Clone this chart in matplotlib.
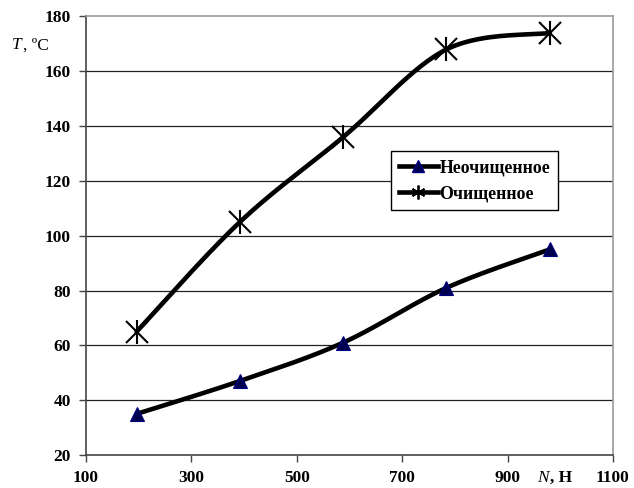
import numpy as np
import matplotlib
matplotlib.use("Agg")
import matplotlib.pyplot as plt
from matplotlib.lines import Line2D

# load, N and temperature readings
load_n = [196, 392, 588, 784, 980]
temp_raw = [35, 47, 61, 81, 95]        # Неочищенное
temp_clean = [65, 105, 136, 168, 174]  # Очищенное

x_ticks = [100, 300, 500, 700, 900, 1100]
y_ticks = [20, 40, 60, 80, 100, 120, 140, 160, 180]

plt.rcParams['font.family'] = ['Liberation Serif', 'DejaVu Serif']


# smooth curve through the points (Bezier segments, Catmull-Rom tangents)
def smooth(xs, ys, n=40):
    pts = np.column_stack([xs, ys]).astype(float)
    m = len(pts)
    out = []
    for i in range(m - 1):
        p0 = pts[max(i - 1, 0)]
        p1 = pts[i]
        p2 = pts[i + 1]
        p3 = pts[min(i + 2, m - 1)]
        c1 = p1 + (p2 - p0) / 6.0
        c2 = p2 - (p3 - p1) / 6.0
        t = np.linspace(0, 1, n)[:, None]
        seg = ((1 - t) ** 3) * p1 + 3 * ((1 - t) ** 2) * t * c1 + 3 * (1 - t) * t ** 2 * c2 + t ** 3 * p2
        out.append(seg if i == 0 else seg[1:])
    out = np.vstack(out)
    return out[:, 0], out[:, 1]


fig = plt.figure(figsize=(6.34, 4.88), dpi=100)
ax = fig.add_axes([0.1356, 0.0676, 0.8312, 0.8986])

for y in y_ticks[1:-1]:
    ax.axhline(y, color='#222222', lw=0.9, zorder=1)

lw = 3.3
sx, sy = smooth(load_n, temp_raw)
ax.plot(sx, sy, color='black', lw=lw, solid_capstyle='round', zorder=3)
ax.plot(load_n, temp_raw, ls='none', marker='^', ms=10, mfc='#000050', mec='#000080', mew=0.8, zorder=4)

sx, sy = smooth(load_n, temp_clean)
ax.plot(sx, sy, color='black', lw=lw, solid_capstyle='round', zorder=3)
ax.plot(load_n, temp_clean, ls='none', marker='x', ms=16, mec='black', mew=1.5, zorder=4)
ax.plot(load_n, temp_clean, ls='none', marker='|', ms=17, mec='black', mew=1.5, zorder=4)

ax.set_xlim(100, 1100)
ax.set_ylim(20, 180)
ax.set_xticks(x_ticks)
ax.set_yticks(y_ticks)
ax.tick_params(axis='both', direction='out', length=5, width=1, color='#444444',
               labelsize=12.5)
ax.tick_params(axis='x', pad=6)
ax.tick_params(axis='y', pad=6)
for lab in ax.get_xticklabels() + ax.get_yticklabels():
    lab.set_fontweight('bold')

for side in ['left', 'bottom']:
    ax.spines[side].set_color('#444444')
    ax.spines[side].set_linewidth(1.2)
for side in ['top', 'right']:
    ax.spines[side].set_color('#999999')
    ax.spines[side].set_linewidth(1.2)

# axis captions
fig.text(0.019, 0.907, 'T', fontsize=12.5, style='italic', va='center', ha='left')
fig.text(0.037, 0.907, ', ºC', fontsize=12.5, va='center', ha='left')
fig.text(0.847, 0.02, 'N', fontsize=12.5, style='italic', va='center', ha='left')
fig.text(0.867, 0.02, ', Н', fontsize=12.5, fontweight='bold', va='center', ha='left')

# legend
h_raw = Line2D([], [], color='black', lw=lw, marker='^', ms=8, mfc='#000050', mec='#000080')
h_clean = Line2D([], [], color='black', lw=lw, marker=(6, 2, 0), ms=10, mec='black', mew=1.3)
leg = ax.legend([h_raw, h_clean], ['Неочищенное', 'Очищенное'],
                loc='upper left', bbox_to_anchor=(0.578, 0.693),
                prop={'weight': 'bold', 'size': 12.8}, frameon=True, fancybox=False,
                edgecolor='black', framealpha=1, handlelength=2.2, handletextpad=0.1,
                borderpad=0.45, labelspacing=0.5, borderaxespad=0)
leg.get_frame().set_linewidth(1.0)

fig.savefig('out.png', dpi=100)
